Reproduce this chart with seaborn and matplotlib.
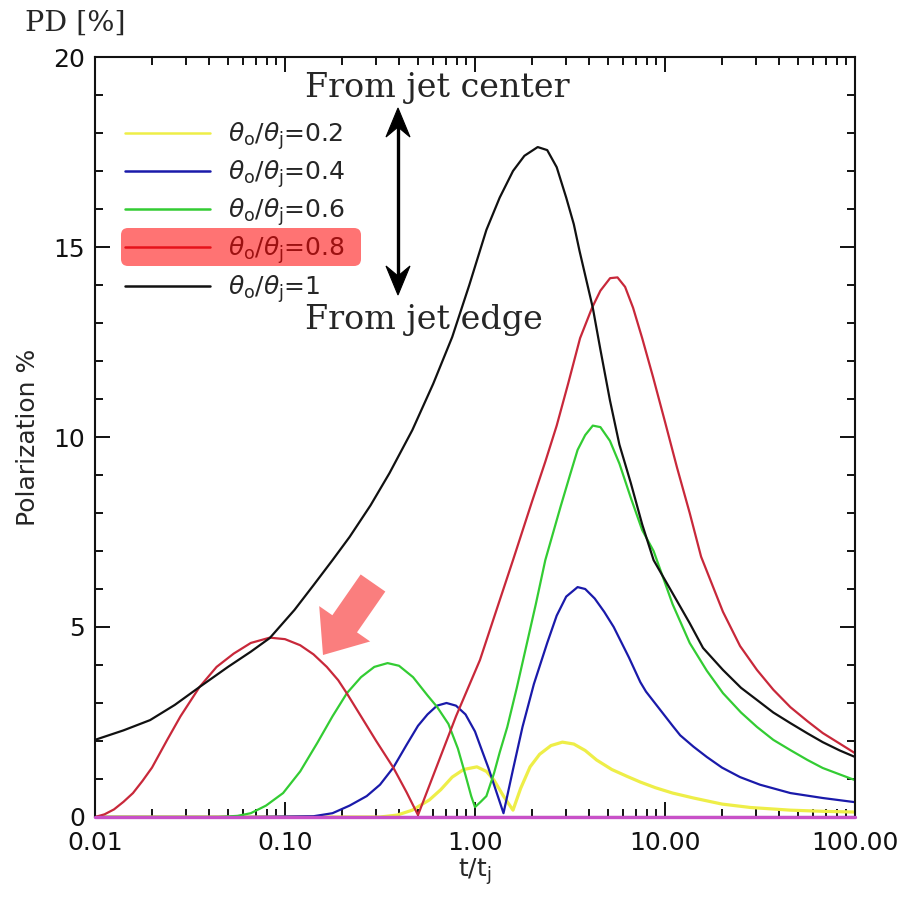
import numpy as np
import pandas as pd
import seaborn as sns
import matplotlib
matplotlib.use("Agg")
import matplotlib.pyplot as plt
from matplotlib.patches import FancyArrow, FancyBboxPatch, Polygon
from matplotlib.lines import Line2D
from matplotlib.transforms import Affine2D
from matplotlib.ticker import FixedLocator, FixedFormatter, LogLocator, MultipleLocator, NullFormatter

# ---------------- data (x given as log10(t/t_j)) ----------------
labels = [r"$\theta_\mathrm{o}/\theta_\mathrm{j}$=0.2",
          r"$\theta_\mathrm{o}/\theta_\mathrm{j}$=0.4",
          r"$\theta_\mathrm{o}/\theta_\mathrm{j}$=0.6",
          r"$\theta_\mathrm{o}/\theta_\mathrm{j}$=0.8",
          r"$\theta_\mathrm{o}/\theta_\mathrm{j}$=1"]
colors = ["#EEEE48", "#1A1AAA", "#33CC33", "#C8283A", "#111111"]

logt_02 = [-2.0, -0.7, -0.5, -0.41, -0.33, -0.24, -0.18, -0.12, -0.06, 0.01, 0.06, 0.1, 0.15, 0.2,
           0.24, 0.29, 0.34, 0.4, 0.46, 0.52, 0.58, 0.64, 0.72, 0.8, 0.87, 0.95, 1.04, 1.15, 1.3,
           1.45, 1.66, 1.83, 2.0]
pd_02 = [0.0, 0.0, 0.0, 0.05, 0.18, 0.45, 0.72, 1.05, 1.25, 1.32, 1.2, 0.97, 0.55, 0.18,
         0.75, 1.32, 1.65, 1.88, 1.97, 1.92, 1.75, 1.5, 1.25, 1.07, 0.92, 0.77, 0.63, 0.5, 0.34,
         0.25, 0.18, 0.15, 0.13]

logt_04 = [-2.0, -1.2, -0.85, -0.75, -0.66, -0.57, -0.5, -0.43, -0.36, -0.3, -0.25, -0.2, -0.15,
           -0.1, -0.05, 0.0, 0.03, 0.07, 0.11, 0.15, 0.2, 0.25, 0.31, 0.38, 0.43, 0.48, 0.54, 0.58,
           0.63, 0.68, 0.73, 0.81, 0.87, 0.9, 0.97, 1.04, 1.08, 1.15, 1.22, 1.3, 1.395, 1.5, 1.66,
           1.83, 2.0]
pd_04 = [0.0, 0.0, 0.02, 0.1, 0.3, 0.55, 0.85, 1.3, 1.9, 2.4, 2.7, 2.93, 3.0,
         2.93, 2.7, 2.25, 1.84, 1.3, 0.7, 0.1, 1.25, 2.37, 3.5, 4.58, 5.3, 5.8, 6.05, 6.0,
         5.75, 5.4, 5.0, 4.2, 3.55, 3.3, 2.85, 2.4, 2.15, 1.85, 1.58, 1.3, 1.05, 0.85, 0.63,
         0.5, 0.39]

logt_06 = [-2.0, -1.35, -1.25, -1.18, -1.1, -1.01, -0.92, -0.83, -0.75, -0.674, -0.6, -0.53, -0.46,
           -0.4, -0.326, -0.25, -0.2, -0.14, -0.09, -0.05, -0.02, 0.0, 0.03, 0.06, 0.1, 0.13, 0.17,
           0.22, 0.27, 0.32, 0.37, 0.45, 0.5, 0.54, 0.58, 0.62, 0.66, 0.71, 0.76, 0.82, 0.88, 0.94,
           1.04, 1.13, 1.22, 1.305, 1.4, 1.484, 1.57, 1.66, 1.75, 1.83, 1.92, 2.0]
pd_06 = [0.0, 0.0, 0.03, 0.1, 0.3, 0.63, 1.2, 1.95, 2.65, 3.26, 3.68, 3.95, 4.05,
         3.98, 3.68, 3.2, 2.9, 2.45, 1.8, 1.1, 0.55, 0.26, 0.4, 0.55, 1.15, 1.7, 2.37,
         3.4, 4.5, 5.6, 6.76, 8.16, 9.0, 9.66, 10.05, 10.3, 10.26, 9.9, 9.3, 8.4, 7.55, 7.0,
         5.6, 4.58, 3.85, 3.26, 2.75, 2.37, 2.03, 1.76, 1.5, 1.29, 1.12, 0.97]

logt_08 = [-2.0, -1.95, -1.9, -1.85, -1.8, -1.75, -1.7, -1.62, -1.55, -1.45, -1.36, -1.27, -1.18,
           -1.08, -1.0, -0.92, -0.85, -0.78, -0.72, -0.674, -0.6, -0.52, -0.43, -0.36, -0.3, -0.2,
           -0.1, 0.026, 0.1, 0.2, 0.3, 0.37, 0.43, 0.49, 0.553, 0.616, 0.66, 0.711, 0.75, 0.79,
           0.832, 0.88, 0.937, 1.0, 1.063, 1.13, 1.19, 1.305, 1.395, 1.484, 1.57, 1.66, 1.75,
           1.83, 1.92, 2.0]
pd_08 = [0.0, 0.07, 0.2, 0.4, 0.63, 0.95, 1.3, 2.03, 2.65, 3.42, 3.95, 4.3, 4.58,
         4.72, 4.68, 4.52, 4.28, 3.95, 3.6, 3.25, 2.65, 2.0, 1.3, 0.65, 0.05, 1.35,
         2.65, 4.13, 5.25, 6.76, 8.3, 9.35, 10.3, 11.4, 12.6, 13.4, 13.85, 14.18, 14.2, 13.95,
         13.4, 12.6, 11.58, 10.4, 9.2, 8.0, 6.85, 5.4, 4.5, 3.87, 3.35, 2.89, 2.52,
         2.21, 1.93, 1.68]

logt_10 = [-2.0, -1.85, -1.71, -1.58, -1.45, -1.3, -1.18, -1.08, -0.95, -0.85, -0.75, -0.66, -0.55,
           -0.45, -0.33, -0.22, -0.12, -0.03, 0.06, 0.13, 0.2, 0.26, 0.33, 0.38, 0.43, 0.48, 0.52,
           0.55, 0.62, 0.66, 0.71, 0.76, 0.82, 0.88, 0.94, 1.05, 1.13, 1.2, 1.305, 1.4, 1.484,
           1.57, 1.66, 1.75, 1.83, 1.92, 2.0]
pd_10 = [2.03, 2.28, 2.55, 2.95, 3.42, 3.95, 4.35, 4.71, 5.45, 6.1, 6.76, 7.37, 8.2,
         9.05, 10.18, 11.4, 12.63, 14.0, 15.45, 16.3, 17.0, 17.4, 17.63, 17.55, 17.1, 16.3, 15.6,
         14.9, 13.4, 12.3, 10.97, 9.8, 8.79, 7.7, 6.76, 5.8, 5.1, 4.45, 3.87, 3.4, 3.08,
         2.75, 2.47, 2.2, 1.97, 1.75, 1.58]

logt_zero = [-2.0, 2.0]
pd_zero = [0.0, 0.0]

x_ticks = [0.01, 0.1, 1, 10, 100]
x_ticklabels = ["0.01", "0.10", "1.00", "10.00", "100.00"]
y_ticks = [0, 5, 10, 15, 20]
y_ticklabels = ["0", "5", "10", "15", "20"]

# ---------------- figure ----------------
sns.set_style("ticks")
plt.rcParams["font.family"] = ["DejaVu Sans"]
plt.rcParams["mathtext.fontset"] = "dejavusans"

W, H = 912, 898
fig = plt.figure(figsize=(W / 100, H / 100), dpi=100)
ax = fig.add_axes([95 / W, 1 - 817 / H, 760 / W, 760 / H])

series = [(logt_02, pd_02), (logt_04, pd_04), (logt_06, pd_06), (logt_08, pd_08), (logt_10, pd_10)]
for (lt, pp), lab, col in zip(series, labels, colors):
    df = pd.DataFrame({"t": np.power(10.0, lt), "P": pp})
    lw = 2.3 if col == "#EEEE48" else 1.6
    sns.lineplot(data=df, x="t", y="P", ax=ax, color=col, lw=lw, label=lab,
                 estimator=None, sort=False)
dfz = pd.DataFrame({"t": np.power(10.0, logt_zero), "P": pd_zero})
sns.lineplot(data=dfz, x="t", y="P", ax=ax, color="#C850C8", lw=2.4, estimator=None,
             sort=False, legend=False)
ax.lines[-1].set_clip_on(False)
ax.lines[-1].set_zorder(5)

ax.set_xscale("log")
ax.set_xlim(0.01, 100)
ax.set_ylim(0, 20)
ax.xaxis.set_major_locator(FixedLocator(x_ticks))
ax.xaxis.set_major_formatter(FixedFormatter(x_ticklabels))
ax.xaxis.set_minor_locator(LogLocator(base=10, subs=np.arange(2, 10)))
ax.xaxis.set_minor_formatter(NullFormatter())
ax.yaxis.set_major_locator(FixedLocator(y_ticks))
ax.yaxis.set_major_formatter(FixedFormatter(y_ticklabels))
ax.yaxis.set_minor_locator(MultipleLocator(1))

for s in ax.spines.values():
    s.set_linewidth(1.5)
    s.set_color("#111111")
ax.tick_params(which="both", direction="in", top=True, right=True, width=1.4, color="#111111")
ax.tick_params(which="major", length=11, labelsize=18, colors="#111111")
ax.tick_params(axis="x", which="major", pad=10)
ax.tick_params(axis="y", which="major", pad=7)
ax.tick_params(which="minor", length=6)

ax.set_xlabel(r"t/t$_\mathrm{j}$", fontsize=18, labelpad=1)
ax.set_ylabel("Polarization %", fontsize=18, labelpad=10)

leg = ax.legend(loc="upper left", bbox_to_anchor=(125 / W, 1 - 120 / H),
                bbox_transform=fig.transFigure, frameon=False, fontsize=18,
                handlelength=3.4, handletextpad=0.72, labelspacing=0.26,
                borderpad=0, borderaxespad=0)
for lh in leg.get_lines():
    lh.set_linewidth(1.8)

# ---------------- annotations ----------------
pix = Affine2D().scale(1 / 100) + fig.dpi_scale_trans

fig.text(25 / W, 1 - 23 / H, "PD [%]", family="DejaVu Serif", fontsize=20.5,
         ha="left", va="center")
fig.text(305 / W, 1 - 88 / H, "From jet center", family="DejaVu Serif", fontsize=24,
         ha="left", va="center", zorder=6)
fig.text(305 / W, 1 - 320 / H, "From jet edge", family="DejaVu Serif", fontsize=24,
         ha="left", va="center", zorder=6)

# double-headed vertical arrow (pixel coordinates, y measured from the top)
ax_x = 398
fig.add_artist(Line2D([ax_x, ax_x], [H - 125, H - 280], transform=pix, lw=2.4, color="black", zorder=6))
fig.add_artist(Polygon([[ax_x, H - 108], [ax_x - 12, H - 137], [ax_x, H - 127], [ax_x + 12, H - 137]],
                       closed=True, transform=pix, facecolor="black", edgecolor="black", lw=0.8, zorder=6))
fig.add_artist(Polygon([[ax_x, H - 295], [ax_x - 12, H - 266], [ax_x, H - 276], [ax_x + 12, H - 266]],
                       closed=True, transform=pix, facecolor="black", edgecolor="black", lw=0.8, zorder=6))

# thick salmon arrow pointing at the first red peak
fig.add_artist(FancyArrow(373, H - 583, 323 - 373, 583 - 655, width=30, head_width=62,
                          head_length=38, length_includes_head=True, transform=pix,
                          color="#FA7E7E", lw=0, zorder=7))

# highlight over the 0.8 legend entry
fig.add_artist(FancyBboxPatch((123, H - 264), 236, 34, transform=pix,
                              boxstyle="round,pad=2,rounding_size=7",
                              facecolor="red", alpha=0.55, lw=0, zorder=7))

fig.savefig("out.png", dpi=100)
